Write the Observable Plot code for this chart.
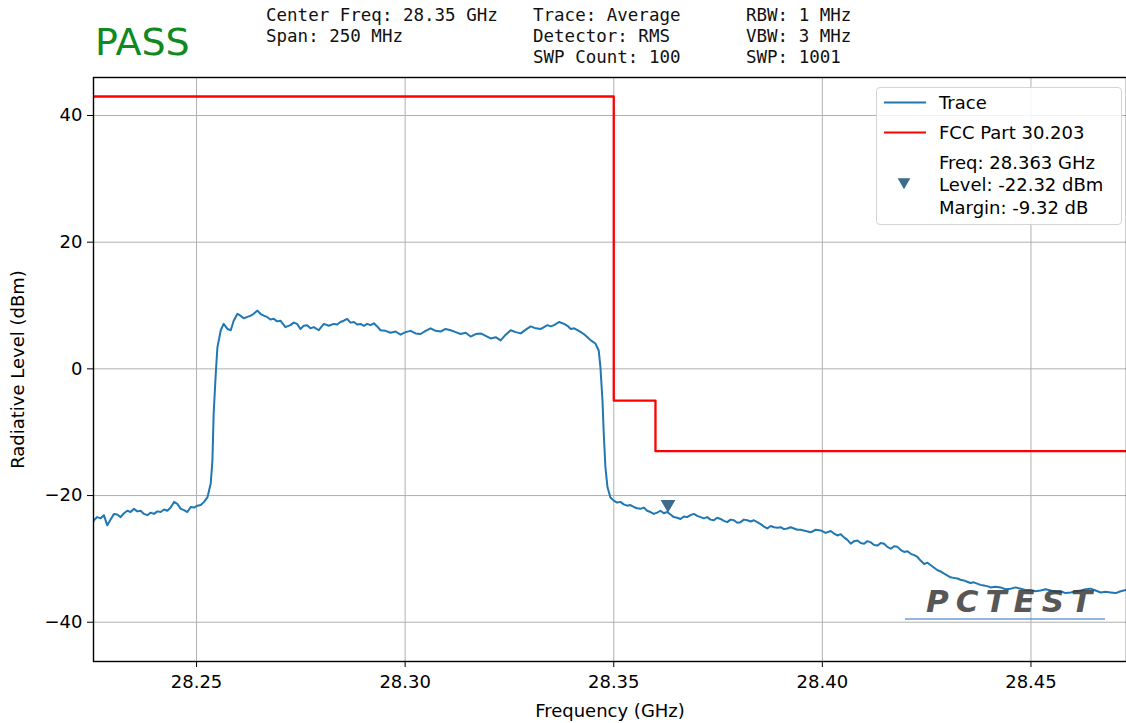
<!DOCTYPE html>
<html>
<head>
<meta charset="utf-8">
<script src="https://cdn.jsdelivr.net/npm/d3@7"></script>
<script src="https://cdn.jsdelivr.net/npm/@observablehq/plot@0.6"></script>
<style>
  html, body { margin: 0; padding: 0; background: #fff; }
  #wrap { position: relative; width: 1126px; height: 723px; overflow: hidden; font-family: "DejaVu Sans", sans-serif; }
  #chart { position: absolute; left: 0; top: 0; }
  .pass { position: absolute; left: 95px; top: 23px; font-size: 38px; line-height: 38px; color: #0f8a1f; font-family: "DejaVu Sans", sans-serif; }
  .info { position: absolute; top: 5px; font-family: "DejaVu Sans Mono", monospace; font-size: 17.5px; line-height: 21px; color: #111; white-space: pre; }
  .legend { position: absolute; left: 876px; top: 87px; width: 246px; height: 138px; border: 1px solid #d4d4d4; border-radius: 4px; background: rgba(255,255,255,0.85); box-sizing: border-box; }
  .legend .t { position: absolute; left: 62px; font-size: 18px; line-height: 22px; color: #000; white-space: nowrap; }
  .legend svg { position: absolute; left: 0; top: 0; }
  .wm { position: absolute; left: 926px; top: 583px; font-family: "DejaVu Sans", sans-serif; font-weight: 900; font-style: italic; font-size: 31px; letter-spacing: 7px; color: #3a3a3a; opacity: 0.85; }
  .wmline { position: absolute; left: 905px; top: 618px; width: 200px; height: 2px; background: #4a86c5; opacity: 0.6; }
</style>
</head>
<body>
<div id="wrap">
  <div id="chart"></div>
  <div class="pass">PASS</div>
  <div class="info" id="info1" style="left:266px"></div>
  <div class="info" id="info2" style="left:533px"></div>
  <div class="info" id="info3" style="left:746px"></div>
  <div class="wm">PCTEST</div>
  <div class="wmline"></div>
  <div class="legend" id="legend"></div>
</div>
<script>
// ---- Data ----
const traceFreq = [
28.2252,28.2254,28.2262,28.2270,28.2278,28.2286,28.2294,28.2302,28.2310,28.2318,
28.2326,28.2334,28.2342,28.2350,28.2358,28.2366,28.2374,28.2382,28.2390,28.2398,
28.2406,28.2414,28.2422,28.2430,28.2438,28.2446,28.2454,28.2462,28.2470,28.2478,
28.2486,28.2494,28.2502,28.2510,28.2518,28.2526,28.2534,28.2538,28.2541,28.2546,
28.2550,28.2558,28.2565,28.2574,28.2582,28.2589,28.2598,28.2605,28.2613,28.2622,
28.2630,28.2637,28.2646,28.2653,28.2661,28.2669,28.2677,28.2685,28.2693,28.2701,
28.2713,28.2725,28.2733,28.2741,28.2749,28.2757,28.2765,28.2773,28.2781,28.2793,
28.2805,28.2817,28.2829,28.2837,28.2845,28.2853,28.2861,28.2869,28.2877,28.2885,
28.2893,28.2901,28.2909,28.2917,28.2925,28.2933,28.2941,28.2953,28.2965,28.2977,
28.2989,28.3001,28.3013,28.3025,28.3037,28.3049,28.3061,28.3073,28.3085,28.3097,
28.3109,28.3121,28.3133,28.3145,28.3157,28.3169,28.3181,28.3193,28.3205,28.3217,
28.3229,28.3241,28.3253,28.3265,28.3277,28.3289,28.3301,28.3313,28.3325,28.3333,
28.3341,28.3349,28.3357,28.3369,28.3381,28.3389,28.3397,28.3405,28.3413,28.3421,
28.3428,28.3437,28.3445,28.3456,28.3464,28.3468,28.3473,28.3476,28.3480,28.3485,
28.3492,28.3500,28.3508,28.3516,28.3524,28.3532,28.3540,28.3548,28.3556,28.3564,
28.3572,28.3580,28.3588,28.3596,28.3604,28.3612,28.3620,28.3628,28.3636,28.3644,
28.3652,28.3660,28.3668,28.3676,28.3684,28.3692,28.3700,28.3708,28.3716,28.3724,
28.3732,28.3740,28.3748,28.3756,28.3764,28.3772,28.3780,28.3788,28.3796,28.3804,
28.3812,28.3820,28.3828,28.3836,28.3844,28.3852,28.3860,28.3868,28.3876,28.3884,
28.3892,28.3900,28.3908,28.3916,28.3924,28.3932,28.3940,28.3948,28.3960,28.3972,
28.3984,28.3996,28.4008,28.4020,28.4028,28.4036,28.4044,28.4052,28.4060,28.4068,
28.4076,28.4084,28.4092,28.4100,28.4108,28.4116,28.4124,28.4132,28.4140,28.4148,
28.4156,28.4164,28.4172,28.4180,28.4188,28.4196,28.4204,28.4212,28.4220,28.4228,
28.4236,28.4244,28.4252,28.4260,28.4268,28.4276,28.4284,28.4291,28.4299,28.4307,
28.4315,28.4324,28.4331,28.4339,28.4347,28.4355,28.4363,28.4371,28.4379,28.4387,
28.4395,28.4403,28.4415,28.4427,28.4439,28.4451,28.4463,28.4475,28.4487,28.4499,
28.4511,28.4523,28.4535,28.4547,28.4559,28.4571,28.4583,28.4595,28.4607,28.4619,
28.4631,28.4643,28.4655,28.4667,28.4679,28.4691,28.4703,28.4715,28.4729
];
const traceLevel = [
-24.2,-23.9,-23.4,-23.6,-23.1,-24.7,-23.8,-22.9,-23.0,-23.4,
-22.8,-22.4,-22.6,-22.1,-22.5,-22.4,-22.9,-23.1,-22.7,-22.9,
-22.5,-22.6,-22.2,-22.4,-21.9,-21.0,-21.3,-22.1,-22.3,-22.6,
-21.8,-21.9,-21.6,-21.5,-21.0,-20.3,-18.1,-14.5,-7.1,-0.8,
3.4,6.1,7.1,6.3,6.1,7.6,8.7,8.4,8.0,8.2,
8.4,8.7,9.2,8.7,8.4,8.2,7.8,7.9,7.5,7.6,
6.6,6.9,7.3,7.1,6.3,6.8,6.9,6.4,6.6,6.1,
7.1,6.8,7.1,7.0,7.4,7.6,7.9,7.3,7.4,7.0,
7.1,6.8,7.1,6.9,7.2,6.7,6.1,6.0,5.7,5.9,
5.4,5.8,6.0,5.6,5.5,6.0,6.4,6.0,5.9,6.3,
6.1,5.8,5.5,5.7,5.1,5.5,5.6,5.2,4.8,5.0,
4.5,5.4,6.1,5.8,5.6,6.2,6.7,6.4,6.3,6.6,
6.9,6.7,6.9,7.4,7.1,6.8,6.3,6.4,6.1,5.8,
5.5,5.0,4.5,4.0,2.9,0.3,-5.0,-10.2,-15.5,-18.7,
-20.3,-20.8,-21.1,-21.0,-21.4,-21.6,-21.5,-21.8,-22.0,-22.1,
-21.9,-22.4,-22.6,-22.9,-22.7,-22.4,-22.8,-22.6,-23.0,-23.4,
-23.5,-23.7,-23.3,-23.4,-23.1,-22.9,-23.2,-23.4,-23.6,-23.4,
-23.8,-23.9,-23.5,-23.7,-24.0,-24.2,-23.8,-23.9,-24.3,-24.2,
-23.8,-23.9,-24.1,-23.9,-24.2,-24.5,-24.9,-25.2,-24.8,-25.0,
-25.1,-25.0,-25.3,-25.2,-25.0,-25.2,-25.4,-25.4,-25.6,-25.8,
-25.4,-25.5,-25.9,-25.6,-26.0,-26.3,-26.1,-26.6,-27.0,-27.6,
-27.2,-27.1,-27.5,-27.6,-27.2,-27.4,-27.8,-27.9,-27.5,-27.6,
-28.1,-28.4,-28.0,-28.1,-28.6,-28.9,-28.8,-29.2,-29.4,-29.7,
-30.3,-30.8,-30.6,-31.0,-31.4,-31.8,-32.0,-32.3,-32.6,-32.9,
-33.0,-33.1,-33.3,-33.4,-33.6,-33.8,-33.7,-33.9,-34.1,-34.2,
-34.3,-34.5,-34.4,-34.5,-34.8,-34.7,-34.5,-34.7,-34.9,-34.9,
-35.1,-35.0,-34.8,-35.0,-35.2,-35.1,-35.4,-35.3,-35.1,-35.0,
-34.8,-34.7,-35.0,-35.3,-35.2,-35.3,-35.4,-35.1,-34.9
];
const limitFreq = [28.225, 28.35, 28.36, 28.475];
const limitLevel = [43, -5, -13, -13];
const markerFreq = [28.363];
const markerLevel = [-22.32];
const markerMargin = [-9.32];
const xTicks = [28.25, 28.30, 28.35, 28.40, 28.45];
const yTicks = [-40, -20, 0, 20, 40];
const xDomain = [28.2253, 28.4729];
const yDomain = [-46.2, 46.0];
const infoCol1 = ["Center Freq: 28.35 GHz", "Span: 250 MHz"];
const infoCol2 = ["Trace: Average", "Detector: RMS", "SWP Count: 100"];
const infoCol3 = ["RBW: 1 MHz", "VBW: 3 MHz", "SWP: 1001"];
const seriesNames = ["Trace", "FCC Part 30.203"];
const traceColor = "#1f77b4";
const limitColor = "#ff0000";
const markerColor = "#3d6b8e";

// ---- Build tables ----
const trace = traceFreq.map((f, i) => ({f, v: traceLevel[i]}));
const limit = limitFreq.map((f, i) => ({f, v: limitLevel[i]}));
const marker = markerFreq.map((f, i) => ({f, v: markerLevel[i]}));

document.getElementById("info1").textContent = infoCol1.join("\n");
document.getElementById("info2").textContent = infoCol2.join("\n");
document.getElementById("info3").textContent = infoCol3.join("\n");

const chart = Plot.plot({
  width: 1126,
  height: 723,
  marginLeft: 93,
  marginRight: 0,
  marginTop: 77,
  marginBottom: 62,
  style: {fontFamily: "DejaVu Sans", fontSize: "18px", color: "#000", background: "transparent", overflow: "visible"},
  x: {domain: xDomain},
  y: {domain: yDomain},
  marks: [
    Plot.gridX(xTicks, {stroke: "#b0b0b0", strokeOpacity: 1, strokeWidth: 1}),
    Plot.gridY(yTicks, {stroke: "#b0b0b0", strokeOpacity: 1, strokeWidth: 1}),
    Plot.line(limit, {x: "f", y: "v", curve: "step-after", stroke: limitColor, strokeWidth: 2.3, clip: true}),
    Plot.line(trace, {x: "f", y: "v", stroke: traceColor, strokeWidth: 2, clip: true}),
    Plot.dot(marker, {x: "f", y: "v", symbol: "triangle", rotate: 180, r: 5.5, fill: markerColor, stroke: "none", dy: -6}),
    Plot.axisX(xTicks, {tickSize: 6, tickPadding: 8, tickFormat: d => d.toFixed(2), label: "Frequency (GHz)", labelAnchor: "center", labelArrow: "none", labelOffset: 55, fontSize: 18}),
    Plot.axisY(yTicks, {tickSize: 6, tickPadding: 5, label: "Radiative Level (dBm)", labelAnchor: "center", labelArrow: "none", labelOffset: 82, fontSize: 18}),
    Plot.frame({stroke: "#000", strokeWidth: 1.4})
  ]
});
document.getElementById("chart").appendChild(chart);

// ---- Legend ----
const legend = document.getElementById("legend");
const ns = "http://www.w3.org/2000/svg";
const lsvg = document.createElementNS(ns, "svg");
lsvg.setAttribute("width", 246); lsvg.setAttribute("height", 138);
function addLine(y, color) {
  const l = document.createElementNS(ns, "line");
  l.setAttribute("x1", 7); l.setAttribute("x2", 49);
  l.setAttribute("y1", y); l.setAttribute("y2", y);
  l.setAttribute("stroke", color); l.setAttribute("stroke-width", 2.2);
  lsvg.appendChild(l);
}
addLine(14.5, traceColor);
addLine(44.5, limitColor);
const tri = document.createElementNS(ns, "path");
tri.setAttribute("d", d3.symbol(d3.symbolTriangle, 70)());
tri.setAttribute("transform", "translate(27,94) rotate(180)");
tri.setAttribute("fill", markerColor);
lsvg.appendChild(tri);
legend.appendChild(lsvg);
function addText(txt, cy) {
  const s = document.createElement("div");
  s.className = "t"; s.textContent = txt; s.style.top = (cy - 11) + "px";
  legend.appendChild(s);
}
addText(seriesNames[0], 14.5);
addText(seriesNames[1], 44.5);
addText("Freq: " + markerFreq[0].toFixed(3) + " GHz", 74.5);
addText("Level: " + markerLevel[0].toFixed(2) + " dBm", 97);
addText("Margin: " + markerMargin[0].toFixed(2) + " dB", 119.5);
</script>
</body>
</html>
